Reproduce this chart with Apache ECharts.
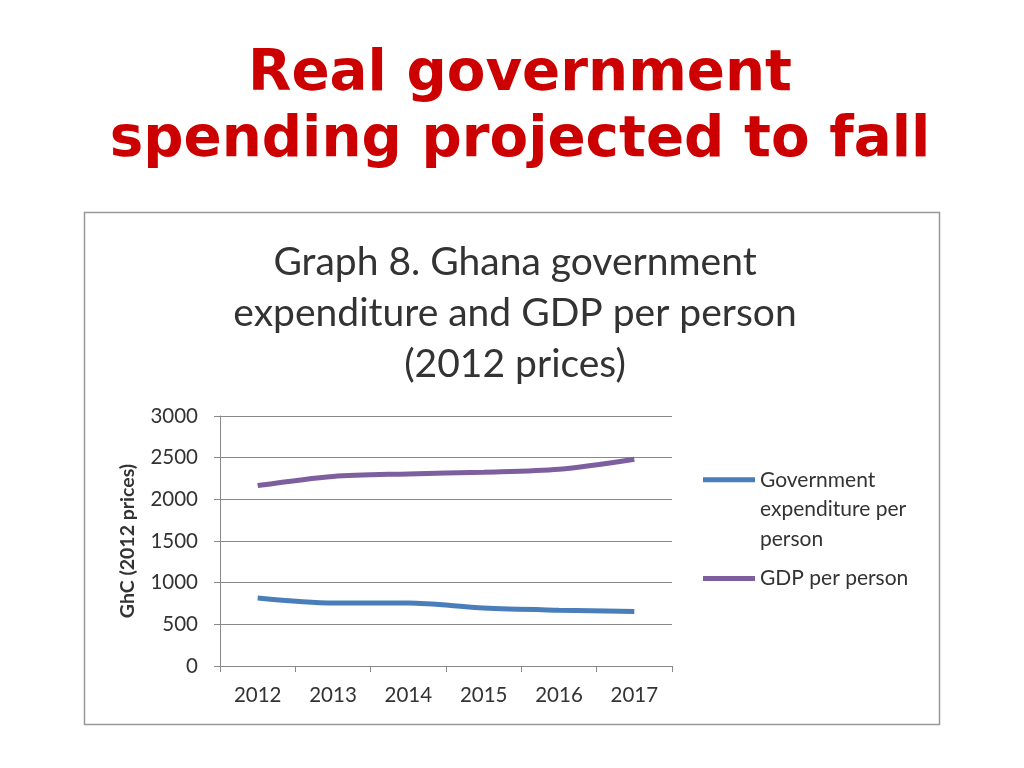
<!DOCTYPE html>
<html>
<head>
<meta charset="utf-8">
<script src="https://cdn.jsdelivr.net/npm/echarts@6/dist/echarts.min.js"></script>
<style>
html,body{margin:0;padding:0;background:#fff;}
#main{width:1024px;height:768px;}
</style>
</head>
<body>
<div id="main"></div>
<script>
const categories = ['2012', '2013', '2014', '2015', '2016', '2017'];
const govSpending = [815, 755, 755, 695, 670, 655];
const gdpPerPerson = [2165, 2275, 2305, 2325, 2360, 2480];
const seriesNames = ['Government expenditure per person', 'GDP per person'];
const legendLabels = ['\n\nGovernment\nexpenditure per\nperson', 'GDP per person'];

const chart = echarts.init(document.getElementById('main'));
const lh = 29.5;
const option = {
  backgroundColor: '#fff',
  animation: false,
  title: [
    {
      text: 'Real government\nspending projected to fall',
      left: 515, top: 37, textAlign: 'center',
      textStyle: {fontFamily: 'DejaVu Sans', fontWeight: 'bold', fontSize: 56.3, lineHeight: 66, color: '#CC0000'}
    },
    {
      text: 'Graph 8. Ghana government\nexpenditure and GDP per person\n(2012 prices)',
      left: 510, top: 232, textAlign: 'center',
      textStyle: {fontFamily: 'Lato', fontWeight: 'normal', fontSize: 39, lineHeight: 51, color: '#333'}
    }
  ],
  graphic: [{
    type: 'rect', shape: {x: 84.5, y: 212.5, width: 855, height: 512},
    style: {fill: 'none', stroke: '#999', lineWidth: 1.5}, z: -1
  }],
  legend: [
    {
      data: [seriesNames[0]], left: 703, top: 406, orient: 'vertical', padding: 0,
      itemWidth: 52, itemHeight: 5, icon: 'rect',
      formatter: function () { return legendLabels[0]; },
      textStyle: {fontFamily: 'Lato', fontSize: 21, color: '#333', lineHeight: lh}
    },
    {
      data: [seriesNames[1]], left: 703, top: 568, orient: 'vertical', padding: 0,
      itemWidth: 52, itemHeight: 5, icon: 'rect',
      formatter: function () { return legendLabels[1]; },
      textStyle: {fontFamily: 'Lato', fontSize: 21, color: '#333'}
    }
  ],
  grid: {left: 220, right: 352, top: 416, bottom: 102, containLabel: false},
  xAxis: {
    type: 'category', data: categories, boundaryGap: true,
    axisLine: {lineStyle: {color: '#888', width: 1}},
    axisTick: {show: true, length: 6, lineStyle: {color: '#888'}},
    axisLabel: {fontFamily: 'Lato', fontSize: 20.5, color: '#333', margin: 19}
  },
  yAxis: {
    type: 'value', min: 0, max: 3000, interval: 500,
    name: 'GhC (2012 prices)', nameLocation: 'middle', nameGap: 82, nameRotate: 90,
    nameTextStyle: {fontFamily: 'Lato', fontWeight: 'bold', fontSize: 19.5, color: '#333'},
    axisLine: {show: true, lineStyle: {color: '#888', width: 1}},
    axisTick: {show: true, length: 6, lineStyle: {color: '#888'}},
    splitLine: {lineStyle: {color: '#888', width: 1}},
    axisLabel: {fontFamily: 'Lato', fontSize: 20.5, color: '#333', margin: 22,
      formatter: function (v) { return String(v); }}
  },
  series: [
    {
      name: seriesNames[0], type: 'line', data: govSpending, smooth: 0.3,
      showSymbol: false, lineStyle: {width: 5, color: '#4A7EBB'}, itemStyle: {color: '#4A7EBB'}
    },
    {
      name: seriesNames[1], type: 'line', data: gdpPerPerson, smooth: 0.3,
      showSymbol: false, lineStyle: {width: 5, color: '#7D5FA0'}, itemStyle: {color: '#7D5FA0'}
    }
  ]
};
chart.setOption(option);
</script>
</body>
</html>
